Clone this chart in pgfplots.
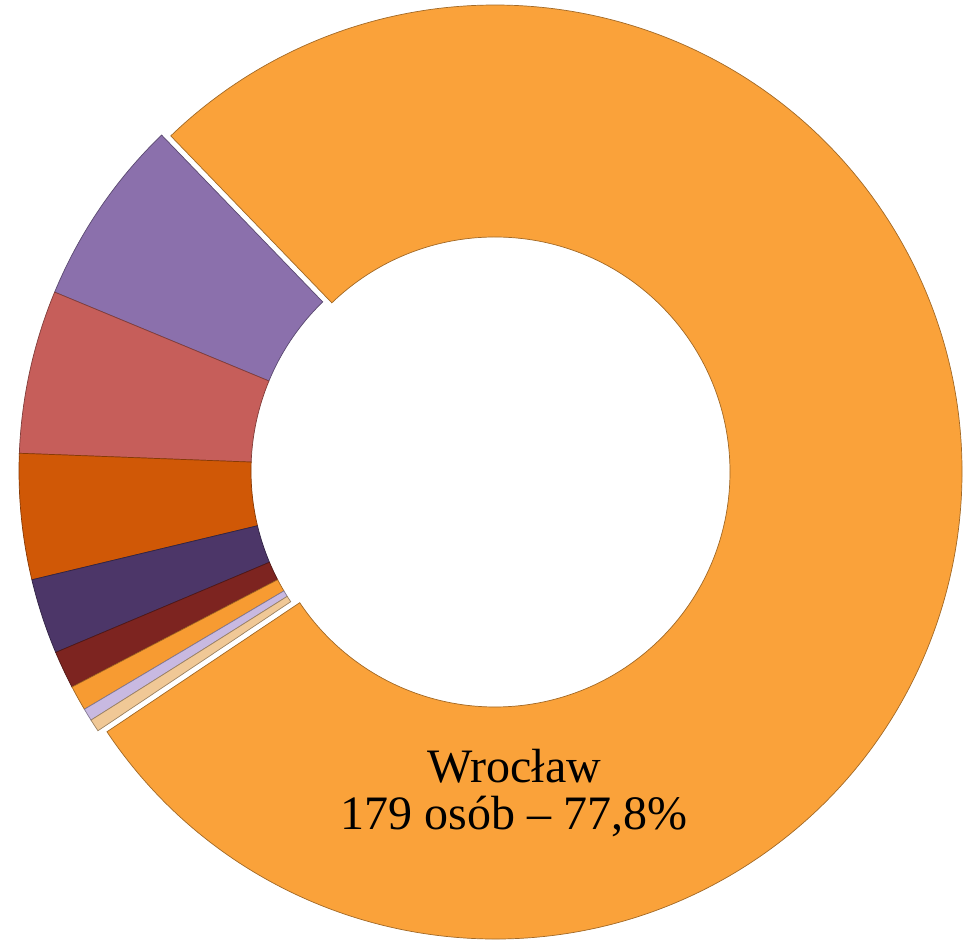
\documentclass[border=0pt]{standalone}
\usepackage{pgfplots}
\pgfplotsset{compat=1.18}
\usepackage{pgfplotstable}
\usepackage{fontspec}
\setmainfont{Liberation Serif}

\definecolor{cPurple}{RGB}{139,112,172}
\definecolor{cRed}{RGB}{198,94,90}
\definecolor{cDkOrange}{RGB}{208,88,6}
\definecolor{cDkPurple}{RGB}{76,54,104}
\definecolor{cDkRed}{RGB}{125,36,32}
\definecolor{cOrange}{RGB}{247,155,50}
\definecolor{cLav}{RGB}{200,185,225}
\definecolor{cTan}{RGB}{240,200,150}
\definecolor{cWro}{RGB}{250,162,58}

% slices counter-clockwise from 134 deg; cx cy = slice centre (Wroclaw is pulled out)
\pgfplotstableread{
name value fillc cx cy
s1 15 cPurple 486 470
s2 13 cRed 486 470
s3 10 cDkOrange 486 470
s4 6 cDkPurple 486 470
s5 3 cDkRed 486 470
s6 2 cOrange 486 470
s7 1 cLav 486 470
s8 1 cTan 486 470
Wroclaw 179 cWro 495 469
}\slices

\begin{document}
\begin{tikzpicture}
\begin{axis}[
    x=1pt, y=1pt,
    xmin=0, xmax=969, ymin=0, ymax=941,
    hide axis,
    clip=false
]
\pgfplotstablegetrowsof{\slices}
\pgfmathtruncatemacro{\nrows}{\pgfplotsretval-1}
\def\total{0}
\pgfplotsforeachungrouped \i in {0,...,\nrows}{%
  \pgfplotstablegetelem{\i}{value}\of\slices
  \pgfmathsetmacro{\total}{\total+\pgfplotsretval}%
}
\def\angA{134}
\pgfplotsforeachungrouped \i in {0,...,\nrows}{%
  \pgfplotstablegetelem{\i}{value}\of\slices \let\val\pgfplotsretval
  \pgfplotstablegetelem{\i}{fillc}\of\slices \let\col\pgfplotsretval
  \pgfplotstablegetelem{\i}{cx}\of\slices \let\cx\pgfplotsretval
  \pgfplotstablegetelem{\i}{cy}\of\slices \let\cy\pgfplotsretval
  \pgfmathsetmacro{\angB}{\angA+\val/\total*360}%
  \edef\doslice{\noexpand\fill[fill=\col, draw=\col!65!black, line width=0.7pt,
      shift={(axis cs:\cx,\cy)}]
    (\angA:467pt) arc[start angle=\angA, end angle=\angB, radius=467pt]
    -- (\angB:235pt) arc[start angle=\angB, end angle=\angA, radius=235pt] -- cycle;}%
  \doslice
  \let\angA\angB
}
\node[anchor=base] at (axis cs:514,158) {\fontsize{48}{56}\selectfont Wrocław};
\node[anchor=base] at (axis cs:514,111) {\fontsize{48}{56}\selectfont 179 osób – 77,8\%};
\end{axis}
\pgfresetboundingbox
\path (current axis.south west) rectangle (current axis.north east);
\end{tikzpicture}
\end{document}
